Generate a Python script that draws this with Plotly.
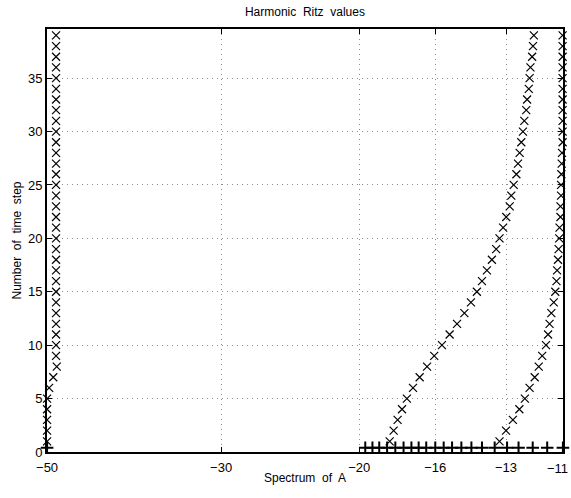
import math
import plotly.graph_objects as go

# time steps
steps = list(range(1, 40))

# Harmonic Ritz values per time step (three tracked curves)
ritz_left = [-50.0, -50.0, -50.0, -50.0, -50.0, -49.7, -49.1, -48.6, -48.7, -48.7,
             -48.7, -48.7, -48.7, -48.7, -48.7, -48.7, -48.7, -48.7, -48.7, -48.7,
             -48.7, -48.7, -48.7, -48.7, -48.7, -48.7, -48.7, -48.7, -48.7, -48.7,
             -48.7, -48.7, -48.7, -48.7, -48.7, -48.7, -48.7, -48.7, -48.7]
ritz_mid = [-18.29, -18.08, -17.87, -17.64, -17.39, -17.08, -16.75, -16.39, -16.05, -15.69,
            -15.34, -15.01, -14.69, -14.41, -14.16, -13.95, -13.75, -13.55, -13.38, -13.25,
            -13.11, -12.99, -12.86, -12.80, -12.71, -12.61, -12.55, -12.49, -12.43, -12.37,
            -12.32, -12.25, -12.22, -12.16, -12.13, -12.10, -12.04, -12.01, -11.98]
ritz_right = [-13.25, -13.00, -12.74, -12.50, -12.30, -12.13, -11.95, -11.81, -11.69, -11.56,
              -11.49, -11.44, -11.38, -11.30, -11.25, -11.21, -11.19, -11.16, -11.14, -11.12,
              -11.11, -11.08, -11.08, -11.06, -11.06, -11.05, -11.04, -11.03, -11.01, -11.01,
              -11.01, -11.01, -11.01, -11.01, -11.01, -11.01, -11.01, -11.01, -11.01]

# Spectrum of A (eigenvalues), plotted just above the axis
eigs = [-50.0, -19.65, -19.24, -18.86, -18.43, -17.99, -17.56, -17.16, -16.80, -16.43,
        -16.00, -15.61, -15.23, -14.82, -14.39, -13.95, -13.44, -12.96, -12.53,
        -12.02, -11.52, -11.0]
eig_level = 0.4

xtick_vals = [-50, -30, -20, -16, -13, -11]
xtick_text = ["\u221250", "\u221230", "\u221220", "\u221216", "\u221213", "\u221211"]
x_limits = [-50, -11]

def neg(vals):
    return [-v for v in vals]

fig = go.Figure()
xmark = dict(symbol="x-thin-open", size=8, color="black", line=dict(width=1.2, color="black"))
for series in (ritz_left, ritz_mid, ritz_right):
    fig.add_trace(go.Scatter(x=neg(series), y=steps, mode="markers", marker=xmark,
                             cliponaxis=False, showlegend=False))
fig.add_trace(go.Scatter(x=neg(eigs), y=[eig_level] * len(eigs), mode="markers",
                         marker=dict(symbol="cross-thin-open", size=9, color="black",
                                     line=dict(width=2, color="black")),
                         cliponaxis=False, showlegend=False))

eps = 1e-4
xr = [math.log10(-x_limits[0]) + eps, math.log10(-x_limits[1]) - eps]

# last tick label is placed as an annotation so that it stays inside the page
axis_text = list(xtick_text[:-1]) + [""]

font = "Liberation Sans, Arial, sans-serif"
grid_dash = "1px,4px"
fig.update_layout(
    width=571, height=498,
    margin=dict(l=47, r=8, t=29, b=46),
    paper_bgcolor="white", plot_bgcolor="white",
    font=dict(family=font, size=13, color="black"),
    title=dict(text="Harmonic\u00a0 Ritz\u00a0 values", x=0.534, xanchor="center",
               y=0.976, yanchor="middle", font=dict(size=12)),
    annotations=[dict(text=xtick_text[-1], xref="paper", yref="paper",
                      x=1.0136, y=-0.0395, xanchor="right", yanchor="middle",
                      showarrow=False, font=dict(size=13))],
)
fig.update_xaxes(
    type="log", range=xr, automargin=False,
    tickvals=neg(xtick_vals), ticktext=axis_text,
    ticks="inside", ticklen=5, tickcolor="black",
    ticklabeloverflow="allow", ticklabelstandoff=2,
    showline=True, linecolor="black", linewidth=2, mirror="ticks",
    showgrid=True, gridcolor="#8c8c8c", griddash=grid_dash, gridwidth=1,
    zeroline=False,
    title=dict(text="Spectrum\u00a0 of\u00a0 A", standoff=0, font=dict(size=12)),
    tickfont=dict(size=13),
)
fig.update_yaxes(
    range=[0, 39.6], tickvals=[0, 5, 10, 15, 20, 25, 30, 35], automargin=False,
    ticks="inside", ticklen=5, tickcolor="black",
    showline=True, linecolor="black", linewidth=2, mirror="ticks",
    showgrid=True, gridcolor="#8c8c8c", griddash=grid_dash, gridwidth=1,
    zeroline=False,
    title=dict(text="Number\u00a0 of\u00a0 time\u00a0 step", standoff=4, font=dict(size=12)),
    tickfont=dict(size=13),
)

fig.write_html("out.html")
